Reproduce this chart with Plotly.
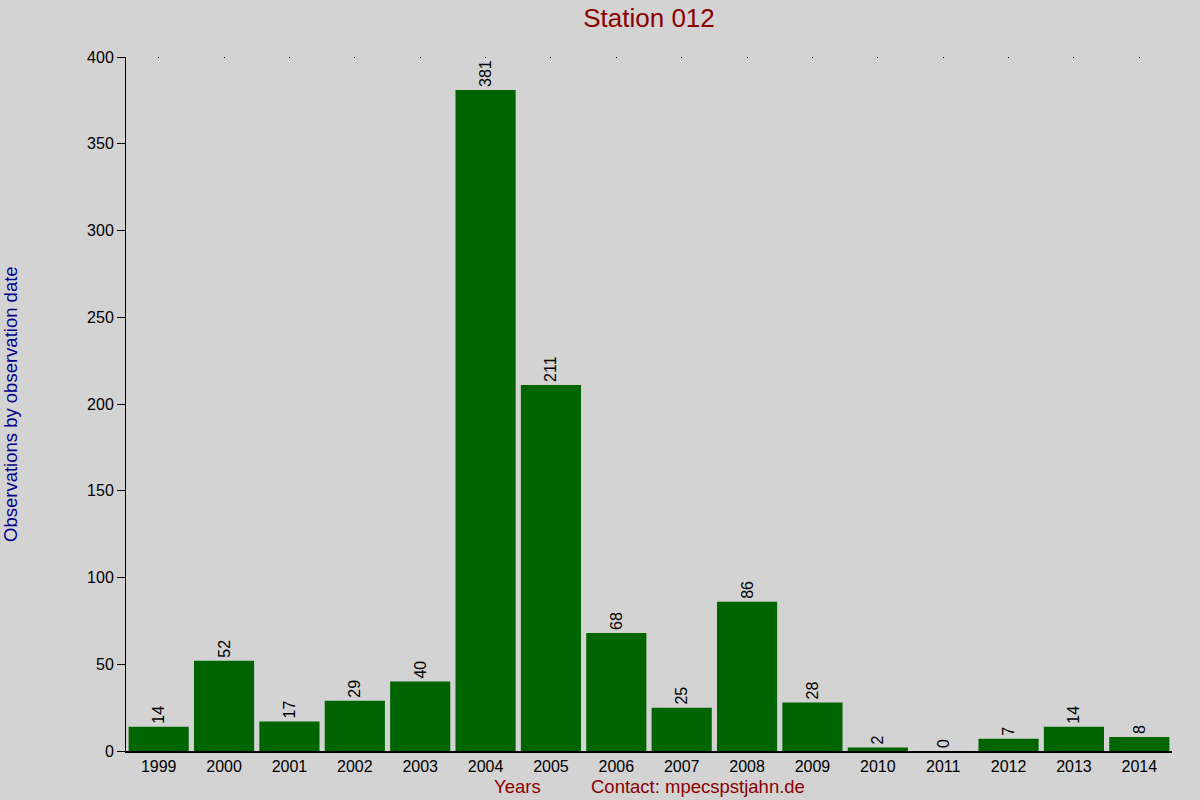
import plotly.graph_objects as go

years = ['1999', '2000', '2001', '2002', '2003', '2004', '2005', '2006',
         '2007', '2008', '2009', '2010', '2011', '2012', '2013', '2014']
counts = [14, 52, 17, 29, 40, 381, 211, 68, 25, 86, 28, 2, 0, 7, 14, 8]

fig = go.Figure()
fig.add_trace(go.Bar(x=years, y=counts, marker_color='#006400', marker_line_width=0,
                     text=[str(c) for c in counts], textposition='outside', textangle=-90,
                     constraintext='none',
                     textfont=dict(size=16, color='black'), cliponaxis=False))
# small dots on the top border (top ticks)
fig.add_trace(go.Scatter(x=years, y=[0] * len(years), xaxis='x2', mode='markers',
                         marker=dict(size=0.1, opacity=0), hoverinfo='skip', showlegend=False))

xrange = [-0.5, len(years) - 0.5]

fig.update_layout(
    width=1200, height=800,
    paper_bgcolor='#d3d3d3', plot_bgcolor='#d3d3d3',
    font=dict(family='Liberation Sans, Arial', size=16, color='black'),
    margin=dict(l=126, r=28, t=57, b=49),
    bargap=0.08, showlegend=False,
    title=dict(text='Station 012', x=649 / 1200, xanchor='center',
               y=1 - 18 / 800, yanchor='middle', font=dict(size=26, color='#8b0000')),
    xaxis=dict(type='category', range=xrange, showgrid=False, showline=True, linecolor='black',
               linewidth=1.5, ticks='', tickfont=dict(size=16), zeroline=False),
    xaxis2=dict(type='category', range=xrange, overlaying='x', side='top', showgrid=False,
                showline=False, ticks='inside', ticklen=1, tickwidth=1, tickcolor='black',
                showticklabels=False),
    yaxis=dict(range=[0, 400], dtick=50, showgrid=False, showline=True, linecolor='black',
               linewidth=1, ticks='outside', ticklen=8, tickcolor='black', zeroline=False,
               tickfont=dict(size=16)),
    annotations=[
        dict(text='Observations by observation date', x=-116 / 1046, y=0.5, xref='paper', yref='paper',
             textangle=-90, showarrow=False, font=dict(size=18.5, color='#00008b'),
             xanchor='center', yanchor='middle'),
        dict(text='Years', x=(517 - 126) / 1046, y=-35 / 694, xref='paper', yref='paper',
             showarrow=False, font=dict(size=18.5, color='#8b0000'), xanchor='center', yanchor='middle'),
        dict(text='Contact: mpecspstjahn.de', x=(698 - 126) / 1046, y=-35 / 694, xref='paper', yref='paper',
             showarrow=False, font=dict(size=18.5, color='#8b0000'), xanchor='center', yanchor='middle'),
    ],
)

fig.write_html("out.html", config={'displayModeBar': False},
               post_script="document.body.style.margin='0';")
